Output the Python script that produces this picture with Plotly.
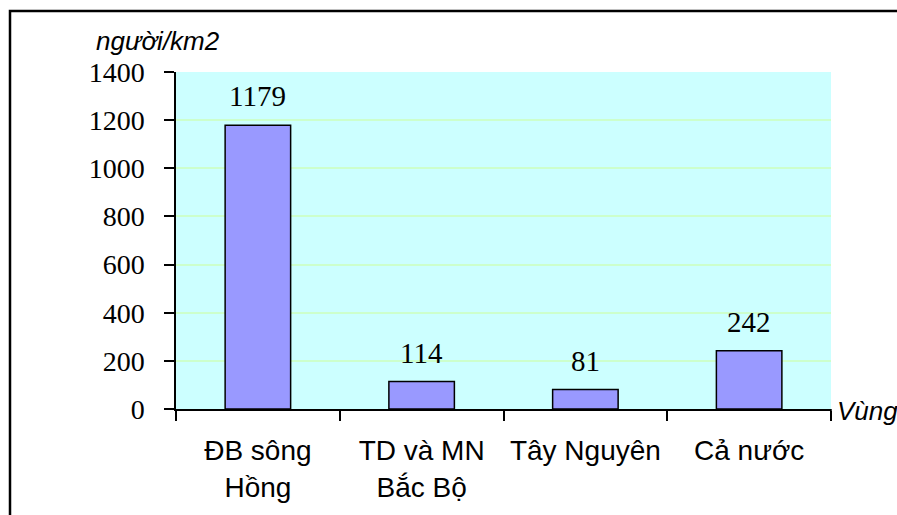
import plotly.graph_objects as go

# Mật độ dân số theo vùng (người/km2)
regions = ["ĐB sông<br>Hồng", "TD và MN<br>Bắc Bộ", "Tây Nguyên", "Cả nước"]
density = [1179, 114, 81, 242]
y_ticks = [0, 200, 400, 600, 800, 1000, 1200, 1400]

W, H = 897, 515
L, R, T, B = 176, 66, 72, 106
pw, ph = W - L - R, H - T - B

fig = go.Figure()
fig.add_trace(go.Bar(
    x=regions, y=density,
    marker=dict(color="#9999FF", line=dict(color="#000000", width=1.5)),
    width=0.4,
    hoverinfo="x+y",
))

# value labels above bars
for r, v in zip(regions, density):
    fig.add_annotation(x=r, y=v, text=str(v), showarrow=False,
                       yanchor="middle", yshift=29,
                       font=dict(family="Liberation Serif", size=29, color="#000"))

def px_x(p):
    return (p - L) / pw

def px_y(p):
    return 1 - (p - T) / ph

# outer chart frame (left and top edges)
fig.add_shape(type="path", xref="paper", yref="paper",
              path=f"M {px_x(10)} {px_y(520)} L {px_x(10)} {px_y(11)} L {px_x(900)} {px_y(11)}",
              line=dict(color="#000", width=2.5))

# extra tick at the right end of the category axis
fig.add_shape(type="line", xref="paper", yref="paper",
              x0=1, x1=1, y0=0, y1=px_y(419), line=dict(color="#000", width=1.5))

fig.add_annotation(xref="paper", yref="paper", x=px_x(94), y=px_y(41),
                   xanchor="left", yanchor="middle", showarrow=False,
                   text="<i>người/km2</i>",
                   font=dict(family="Liberation Sans", size=26, color="#000"))
fig.add_annotation(xref="paper", yref="paper", x=px_x(835), y=px_y(411),
                   xanchor="left", yanchor="middle", showarrow=False,
                   text="<i>Vùng</i>",
                   font=dict(family="Liberation Sans", size=26, color="#000"))

fig.update_layout(
    width=W, height=H,
    margin=dict(l=L, r=R, t=T, b=B, pad=0),
    paper_bgcolor="#FFFFFF", plot_bgcolor="#CCFFFF",
    showlegend=False, bargap=0.6,
    xaxis=dict(type="category", tickson="boundaries", ticks="outside", ticklen=10,
               tickcolor="#000", tickwidth=1.5, showline=True, linecolor="#000", linewidth=1.5,
               showgrid=False, ticklabelstandoff=16,
               tickfont=dict(family="Liberation Sans", size=28, color="#000")),
    yaxis=dict(range=[0, 1400], tickvals=y_ticks, ticks="outside", ticklen=10,
               tickcolor="#000", tickwidth=1.5, showline=True, linecolor="#000", linewidth=1.5,
               showgrid=True, gridcolor="#CCFFCC", gridwidth=1.5, zeroline=False,
               ticklabelstandoff=14,
               tickfont=dict(family="Liberation Serif", size=28, color="#000")),
)

fig.write_html("out.html")
